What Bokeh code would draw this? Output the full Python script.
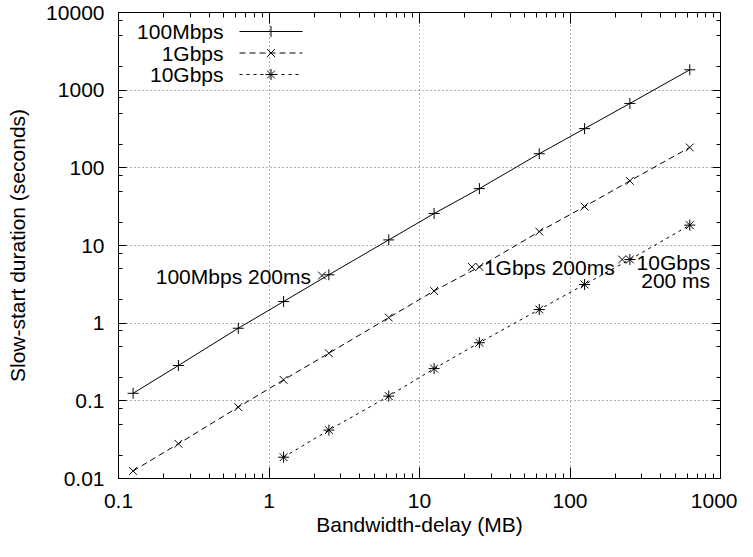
from bokeh.plotting import figure
from bokeh.models import (Range1d, LinearScale, FixedTicker, LogAxis, Label,
                          CustomJSTickFormatter)
from bokeh.core.properties import value
from bokeh.embed import file_html
from bokeh.resources import INLINE

# ---------------- data ----------------
bdp_100m = [0.125, 0.25, 0.625, 1.25, 2.5, 6.25, 12.5, 25, 62.5, 125, 250, 625]
dur_100m = [0.125, 0.285, 0.86, 1.9, 4.2, 11.8, 25.8, 54, 152, 320, 675, 1830]

bdp_1g = [0.125, 0.25, 0.625, 1.25, 2.5, 6.25, 12.5, 25, 62.5, 125, 250, 625]
dur_1g = [0.0125, 0.028, 0.083, 0.186, 0.41, 1.18, 2.6, 5.3, 15.1, 31.7, 68, 183]

bdp_10g = [1.25, 2.5, 6.25, 12.5, 25, 62.5, 125, 250, 625]
dur_10g = [0.0188, 0.042, 0.115, 0.26, 0.56, 1.5, 3.15, 6.6, 18.3]

series_names = ["100Mbps", "1Gbps", "10Gbps"]

ann_x = [2.25, 22.3, 222]
ann_y = [4.1, 5.3, 6.6]
ann_text = ["100Mbps 200ms", "1Gbps 200ms", "10Gbps\n200 ms"]

x_ticks = [0.1, 1, 10, 100, 1000]
x_tick_labels = ["0.1", "1", "10", "100", "1000"]
y_ticks = [0.01, 0.1, 1, 10, 100, 1000, 10000]
y_tick_labels = ["0.01", "0.1", "1", "10", "100", "1000", "10000"]

x_label = "Bandwidth-delay (MB)"
y_label = "Slow-start duration (seconds)"

# ---------------- style ----------------
FONT = "Liberation Sans"
FS = "21px"
x_minor = [m * 10.0 ** k for k in range(-1, 3) for m in range(2, 10)]
y_minor = [m * 10.0 ** k for k in range(-2, 4) for m in (2, 5, 8)]

W, H = 737, 541
BL, BR, BT, BB = 118, 17, 12, 63
FW, FH = W - BL - BR, H - BT - BB

p = figure(width=W, height=H, x_axis_type="log", y_axis_type="log",
           x_range=Range1d(0.1, 1000), y_range=Range1d(0.01, 10000),
           output_backend="svg", toolbar_location=None,
           min_border_left=BL, min_border_right=BR, min_border_top=BT,
           min_border_bottom=BB)
p.background_fill_color = "white"
p.border_fill_color = "white"
p.outline_line_color = "black"
p.outline_line_width = 1
p.outline_line_alpha = 1


def fmt(tks, lbls):
    return CustomJSTickFormatter(args=dict(tk=tks, lb=lbls), code="""
        for (let i = 0; i < tk.length; i++) {
            if (Math.abs(Math.log10(tk[i]) - Math.log10(tick)) < 1e-6) return lb[i];
        }
        return "";
    """)


xa = p.xaxis[0]
xa.ticker = FixedTicker(ticks=x_ticks, minor_ticks=x_minor)
xa.formatter = fmt(x_ticks, x_tick_labels)
ya = p.yaxis[0]
ya.ticker = FixedTicker(ticks=y_ticks, minor_ticks=y_minor)
ya.formatter = fmt(y_ticks, y_tick_labels)

for ax, maj, mnr in ((xa, 11, 5), (ya, 8, 4)):
    ax.axis_line_color = "black"
    ax.major_tick_in = maj
    ax.major_tick_out = 0
    ax.minor_tick_in = mnr
    ax.minor_tick_out = 0
    ax.major_tick_line_color = "black"
    ax.minor_tick_line_color = "black"
    ax.major_label_text_font = FONT
    ax.major_label_text_font_size = FS
    ax.major_label_text_color = "black"
    ax.axis_label_text_font = FONT
    ax.axis_label_text_font_size = FS
    ax.axis_label_text_font_style = "normal"
    ax.axis_label_text_color = "black"

xa.axis_label = x_label
xa.major_label_standoff = 15
xa.axis_label_standoff = 2
ya.axis_label = y_label
ya.major_label_standoff = 14
ya.axis_label_standoff = 14

# mirrored ticks on top and right
top = LogAxis(ticker=FixedTicker(ticks=x_ticks, minor_ticks=x_minor))
right = LogAxis(ticker=FixedTicker(ticks=y_ticks, minor_ticks=y_minor))
for ax, maj, mnr in ((top, 11, 5), (right, 8, 4)):
    ax.axis_line_color = None
    ax.major_tick_in = maj
    ax.major_tick_out = 0
    ax.minor_tick_in = mnr
    ax.minor_tick_out = 0
    ax.major_tick_line_color = "black"
    ax.minor_tick_line_color = "black"
    ax.major_label_text_font_size = "0px"
    ax.major_label_standoff = 0
    ax.major_label_text_color = None
p.add_layout(top, "above")
p.add_layout(right, "right")

# grid
p.xgrid.ticker = FixedTicker(ticks=x_ticks[1:-1])
p.ygrid.ticker = FixedTicker(ticks=y_ticks[1:-1])
for g in (p.xgrid[0], p.ygrid[0]):
    g.grid_line_color = "#606060"
    g.grid_line_dash = "1 3"
    g.grid_line_width = 1

# series
LC = "black"
styles = [("solid", "cross"), ("6 4", "x"), ("3 4", "asterisk")]
data = [(bdp_100m, dur_100m), (bdp_1g, dur_1g), (bdp_10g, dur_10g)]
for (xs, ys), (dash, mk) in zip(data, styles):
    p.line(xs, ys, line_color=LC, line_width=1, line_dash=dash)
    p.scatter(xs, ys, marker=mk, size=11, line_color=LC, line_width=1)

# annotations with points
p.scatter(ann_x, ann_y, marker="x", size=11, line_color=LC, line_width=1)
p.text([ann_x[0]], [ann_y[0]], text=[ann_text[0]], text_align="right",
       text_baseline="middle", x_offset=-11, y_offset=1,
       text_font=value(FONT), text_font_size=FS, text_color="black")
p.text([ann_x[1]], [ann_y[1]], text=[ann_text[1]], text_align="left",
       text_baseline="middle", x_offset=12, y_offset=1,
       text_font=value(FONT), text_font_size=FS, text_color="black")
p.text([ann_x[2]], [ann_y[2]], text=[ann_text[2]], text_align="right",
       text_baseline="top", x_offset=88, y_offset=-9, text_line_height=0.8,
       text_font=value(FONT), text_font_size=FS, text_color="black")

# legend (drawn in frame-pixel coordinates measured from the frame's top-left)
p.extra_x_ranges = {"lx": Range1d(0, FW)}
p.extra_x_scales = {"lx": LinearScale()}
p.extra_y_ranges = {"ly": Range1d(FH, 0)}
p.extra_y_scales = {"ly": LinearScale()}
row_y = [19, 40.5, 62]
for name, (dash, mk), ry in zip(series_names, styles, row_y):
    p.line([121, 184], [ry, ry], line_color=LC, line_width=1, line_dash=dash,
           x_range_name="lx", y_range_name="ly")
    p.scatter([152.5], [ry], marker=mk, size=11, line_color=LC, line_width=1,
              x_range_name="lx", y_range_name="ly")
    p.add_layout(Label(x=105, y=ry, text=name, x_range_name="lx", y_range_name="ly",
                       text_align="right", text_baseline="middle",
                       text_font=FONT, text_font_size=FS, text_color="black"))

open("out.html", "w").write(file_html(p, INLINE))
